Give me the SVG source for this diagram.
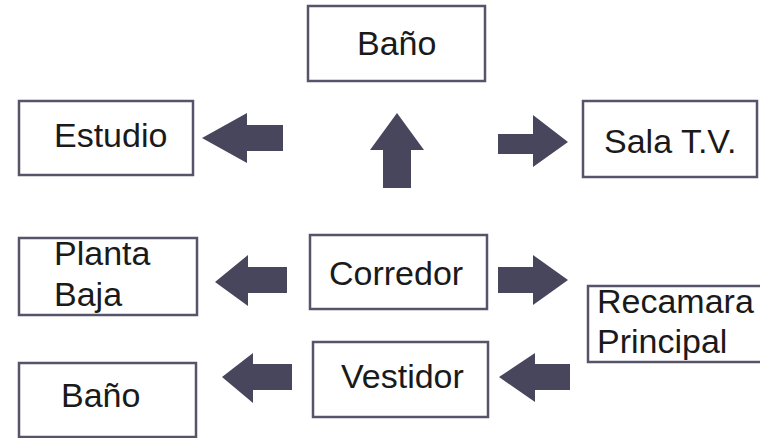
<svg xmlns="http://www.w3.org/2000/svg" width="760" height="438" viewBox="0 0 760 438">
<style>
.box{fill:#ffffff;stroke:#55546a;stroke-width:2.5}
.t{font-family:"Liberation Sans",Arial,sans-serif;font-size:34px;fill:#1a1a1a}
.arr{fill:#47465c}
</style>
<rect x="0" y="0" width="760" height="438" fill="#ffffff"/>
<g id="connectors">
<polygon class="arr" points="202,138 247,113 247,125 283,125 283,151 247,151 247,163"/>
<polygon class="arr" points="397,113 424,150 411,150 411,188 383,188 383,150 370,150"/>
<polygon class="arr" points="568,142 533,115 533,134 498,134 498,154 533,154 533,167"/>
<polygon class="arr" points="215,282 248,255 248,267 287,267 287,293 248,293 248,306"/>
<polygon class="arr" points="568,280 533,255 533,267 498,267 498,293 533,293 533,305"/>
<polygon class="arr" points="499,377 535,353 535,364 570,364 570,390 535,390 535,402"/>
<polygon class="arr" points="222,377 253,353 253,364 292,364 292,390 253,390 253,403"/>
</g>
<g id="bano-top"><rect class="box" x="308" y="6" width="177" height="75"/><text class="t" x="357" y="55">Baño</text></g>
<g id="estudio"><rect class="box" x="19" y="101" width="174" height="74"/><text class="t" x="54" y="147">Estudio</text></g>
<g id="sala"><rect class="box" x="583" y="101" width="174" height="76"/><text class="t" x="604" y="153">Sala T.V.</text></g>
<g id="planta-baja"><rect class="box" x="19" y="238" width="178" height="77"/><text class="t" x="54" y="265">Planta</text><text class="t" x="54" y="306">Baja</text></g>
<g id="corredor"><rect class="box" x="310" y="235" width="177" height="74"/><text class="t" x="329" y="285">Corredor</text></g>
<g id="recamara"><rect class="box" x="588" y="286" width="190" height="76"/><text class="t" x="597" y="313">Recamara</text><text class="t" x="597" y="353">Principal</text></g>
<g id="vestidor"><rect class="box" x="313" y="342" width="175" height="75"/><text class="t" x="341" y="388">Vestidor</text></g>
<g id="bano-bottom"><rect class="box" x="19" y="363" width="177" height="74"/><text class="t" x="61" y="407">Baño</text></g>
</svg>
